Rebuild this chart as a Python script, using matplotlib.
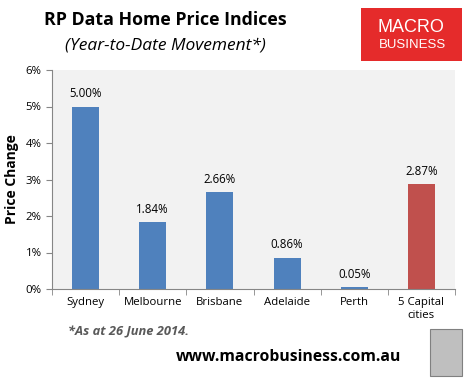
import matplotlib
matplotlib.use("Agg")
import matplotlib.pyplot as plt
from matplotlib.patches import Rectangle
from matplotlib.ticker import PercentFormatter, FixedLocator

categories = ["Sydney", "Melbourne", "Brisbane", "Adelaide", "Perth", "5 Capital\ncities"]
values = [5.00, 1.84, 2.66, 0.86, 0.05, 2.87]
colors = ["#4F81BD"] * 5 + ["#C0504D"]
yticks = [0, 1, 2, 3, 4, 5, 6]

plt.rcParams['font.family'] = ['Open Sans', 'DejaVu Sans']

fig = plt.figure(figsize=(4.69, 3.78), dpi=100)
fig.patch.set_facecolor("white")
ax = fig.add_axes([52/469, 1-289/378, (455-52)/469, (289-70)/378])
ax.set_facecolor("#F2F2F2")

x = list(range(len(categories)))
bars = ax.bar(x, values, width=0.4, color=colors, zorder=2)
for xi, v in zip(x, values):
    ax.text(xi, v + 0.17, f"{v:.2f}%", ha="center", va="bottom", fontsize=8.3, color="#000000")

ax.set_xlim(-0.5, len(categories) - 0.5)
ax.set_ylim(0, 6)
ax.set_yticks(yticks)
ax.yaxis.set_major_formatter(PercentFormatter(decimals=0))
ax.set_xticks(x)
ax.set_xticklabels(categories, fontsize=8.2)
ax.xaxis.set_minor_locator(FixedLocator([i - 0.5 for i in range(len(categories) + 1)]))
ax.tick_params(axis="x", which="major", length=0, pad=6)
ax.tick_params(axis="x", which="minor", length=4, direction="out", color="#868686")
ax.tick_params(axis="y", labelsize=8.2, length=4, color="#868686", direction="out")
for s in ["top", "right"]:
    ax.spines[s].set_visible(False)
for s in ["left", "bottom"]:
    ax.spines[s].set_color("#868686")
    ax.spines[s].set_linewidth(0.8)
ax.set_ylabel("Price Change", fontsize=10, fontweight="bold", labelpad=5)

fig.text(165/469, 1-20/378, "RP Data Home Price Indices", ha="center", va="center",
         fontsize=12.8, fontweight="bold")
fig.text(165/469, 1-45/378, "(Year-to-Date Movement*)", ha="center", va="center",
         fontsize=12.5, style="italic")

# logo
fig.patches.append(Rectangle((361/469, 1-61/378), 101/469, 53/378, transform=fig.transFigure,
                             facecolor="#E52B2B", edgecolor="none"))
fig.text(411/469, 1-28/378, "MACRO", ha="center", va="center", color="white", fontsize=13,
         family=["Liberation Sans", "DejaVu Sans"])
fig.text(412/469, 1-45/378, "BUSINESS", ha="center", va="center", color="white", fontsize=9.5,
         family=["Liberation Sans", "DejaVu Sans"])

fig.text(68/469, 1-332/378, "*As at 26 June 2014.", ha="left", va="center", fontsize=9.3,
         fontweight="bold", style="italic", color="#595959")
fig.text(289/469, 1-357/378, "www.macrobusiness.com.au", ha="center", va="center", fontsize=11.3,
         fontweight="bold")
fig.patches.append(Rectangle((430/469, 1-376/378), 32/469, 47/378, transform=fig.transFigure,
                             facecolor="#BFBFBF", edgecolor="#808080", linewidth=0.8))

fig.savefig("out.png", dpi=100)
